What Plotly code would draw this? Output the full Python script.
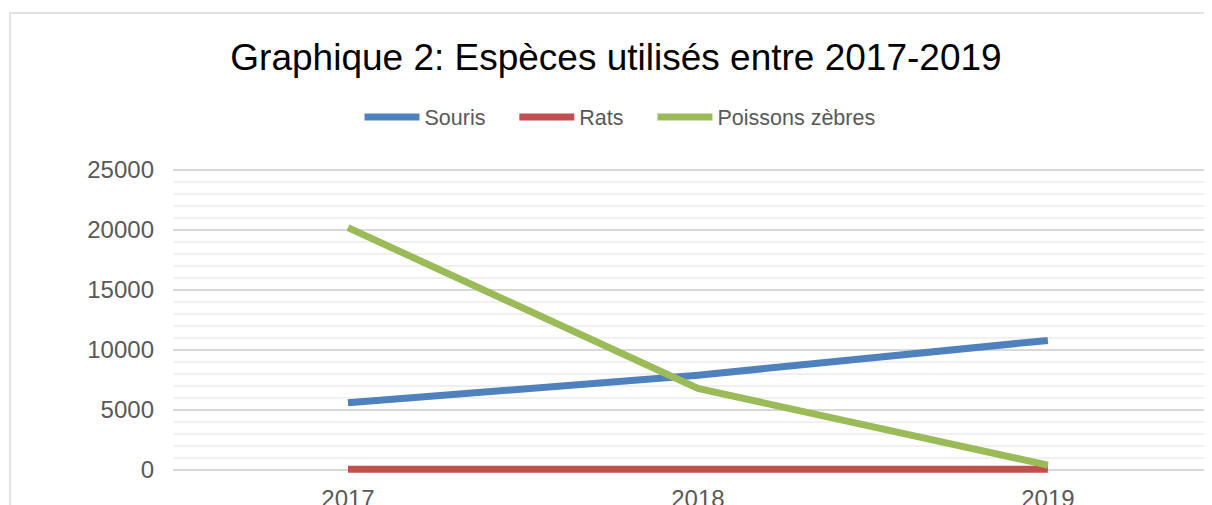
import plotly.graph_objects as go

annees = ["2017", "2018", "2019"]
souris = [5600, 7900, 10800]
rats = [60, 60, 60]
poissons = [20200, 6800, 400]

noms = ["Souris", "Rats", "Poissons zèbres"]
couleurs = ["#4F81BD", "#C0504D", "#9BBB59"]
series = [souris, rats, poissons]

fig = go.Figure()
for i, (nom, vals) in enumerate(zip(noms, series)):
    # pad the legend text a bit: the reference spaces its entries wider
    pad = "\u00a0" * 4 if i < len(noms) - 1 else ""
    fig.add_trace(go.Scatter(
        x=annees, y=vals, name=nom + pad, mode="lines",
        line=dict(color=couleurs[i], width=7),
    ))

font = "Liberation Sans, Arial, sans-serif"

# the page puts the figure 8px in from the top-left corner
W, H = 1204, 497

fig.update_layout(
    width=W, height=H,
    margin=dict(l=165, r=0, t=152, b=25),
    plot_bgcolor="white", paper_bgcolor="white",
    font=dict(family=font, color="#595959", size=24),
    title=dict(
        text="Graphique 2: Espèces utilisés entre 2017-2019",
        font=dict(family=font, size=37, color="#000000"),
        x=608 / W, xref="container", xanchor="center",
        y=1 - 49 / H, yref="container", yanchor="middle",
    ),
    legend=dict(
        orientation="h", xref="container", x=612 / W, xanchor="center",
        yref="container", y=1 - 109 / H, yanchor="middle",
        font=dict(size=21.5, color="#595959"),
        itemwidth=55,
    ),
    showlegend=True,
)

fig.update_xaxes(
    type="category", range=[-0.5, 2.469], automargin=False,
    showgrid=False, showline=False, zeroline=False,
    ticks="", ticklabelstandoff=2,
)
fig.update_yaxes(
    range=[-833, 25833], tick0=0, dtick=5000, tickformat="d", automargin=False,
    showgrid=True, gridcolor="#D9D9D9", gridwidth=1.5,
    zeroline=True, zerolinecolor="#D9D9D9", zerolinewidth=1.5,
    minor=dict(dtick=1000, showgrid=True, gridcolor="#F0F0F0", gridwidth=1.5),
    showline=False, ticks="", ticklabelstandoff=18,
)

# chart border
fig.add_shape(
    type="rect", xref="paper", yref="paper",
    x0=(2 - 165) / 1039, x1=1.2, y0=-0.3, y1=(472 - 5) / 320,
    line=dict(color="#D9D9D9", width=1.5), fillcolor="rgba(0,0,0,0)",
    layer="below",
)

fig.write_html("out.html")
